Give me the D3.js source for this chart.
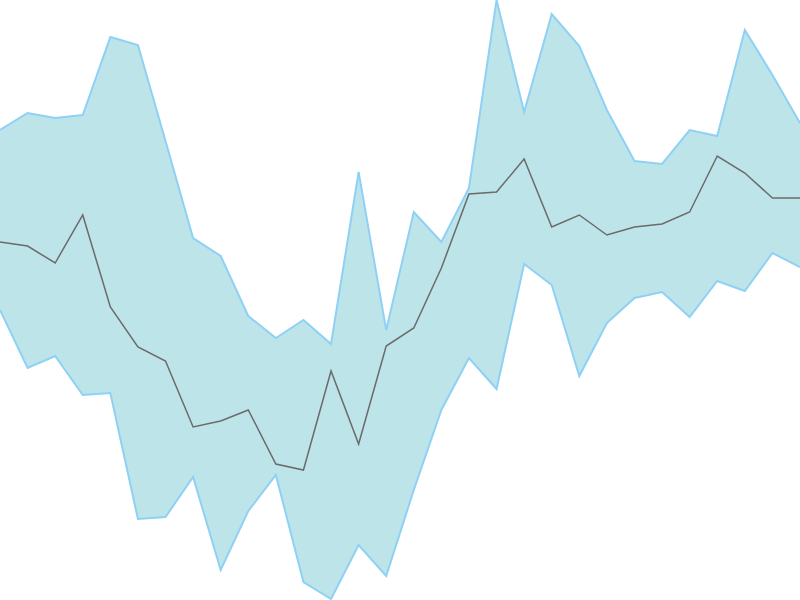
<!DOCTYPE html>
<html>
<head>
<meta charset="utf-8">
<script src="https://cdn.jsdelivr.net/npm/d3@7"></script>
<style>
  html, body { margin: 0; padding: 0; background: #fff; }
  svg { display: block; }
</style>
</head>
<body>
<svg id="chart"></svg>
<script>
// values (arbitrary units, 0 = bottom of band range)
const upper = [470, 487, 482, 485, 563, 555, 459, 362, 344, 284, 262, 280, 256, 428, 270,
               388, 358, 412, 600, 488, 586, 554, 490, 439, 436, 470, 464, 570, 525, 477];
const lower = [290, 232, 244, 205, 207, 81, 83, 123, 30, 89, 125, 18, 1, 55, 24,
               110, 190, 242, 211, 336, 315, 224, 277, 302, 308, 283, 319, 309, 347, 333];
const middle = [358, 354, 337, 385, 293, 253, 239, 173, 179, 190, 136, 130, 229, 156, 254,
                272, 332, 406, 408, 441, 373, 385, 365, 373, 376, 388, 444, 427, 402, 402];

((() => {
  const width = 800;
  const height = 600;

  const svg = d3.select("#chart")
    .attr("width", width)
    .attr("height", height);

  const x = d3.scaleLinear()
    .domain([0, upper.length - 1])
    .range([0, width]);

  const y = d3.scaleLinear()
    .domain([0, 600])
    .range([height, 0]);

  const band = d3.area()
    .x((d, i) => x(i))
    .y0((d, i) => y(lower[i]))
    .y1((d, i) => y(upper[i]));

  const line = d3.line()
    .x((d, i) => x(i))
    .y(d => y(d));

  // Band fill
  svg.append("path")
    .datum(upper)
    .attr("d", band)
    .attr("fill", "#bde4e9");

  // Band edges
  [upper, lower].forEach(series => {
    svg.append("path")
      .datum(series)
      .attr("d", line)
      .attr("fill", "none")
      .attr("stroke", "#8ed1f5")
      .attr("stroke-width", 2);
  });

  // Middle line
  svg.append("path")
    .datum(middle)
    .attr("d", line)
    .attr("fill", "none")
    .attr("stroke", "#6b6b6b")
    .attr("stroke-width", 1.5);
})());
</script>
</body>
</html>
